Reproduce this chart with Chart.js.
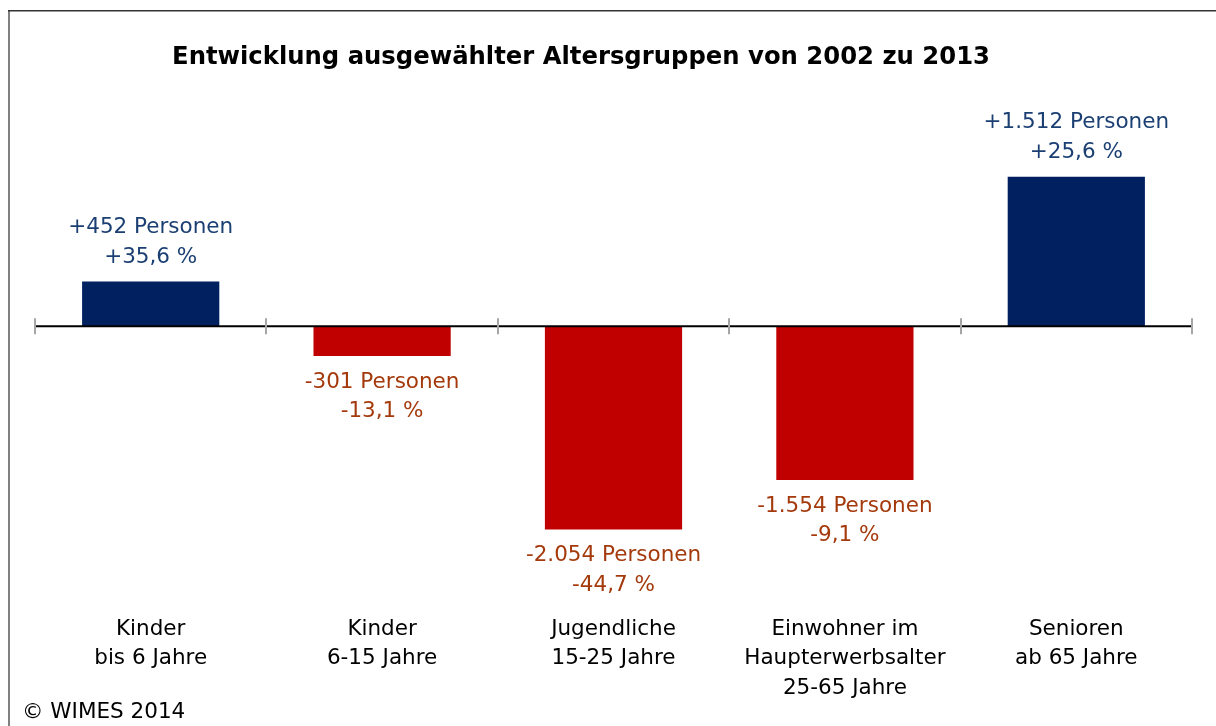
<!DOCTYPE html>
<html>
<head>
<meta charset="utf-8">
<script src="https://cdn.jsdelivr.net/npm/chart.js@4"></script>
<style>
  html, body { margin: 0; padding: 0; background: #fff; }
  #wrap { width: 1216px; height: 726px; }
</style>
</head>
<body>
<div id="wrap"><canvas id="myChart" width="1216" height="726"></canvas></div>
<script>
var kategorien = [
    ['Kinder', 'bis 6 Jahre'],
    ['Kinder', '6-15 Jahre'],
    ['Jugendliche', '15-25 Jahre'],
    ['Einwohner im', 'Haupterwerbsalter', '25-65 Jahre'],
    ['Senioren', 'ab 65 Jahre']
];
var personen = [452, -301, -2054, -1554, 1512];
var prozent = [35.6, -13.1, -44.7, -9.1, 25.6];
var titel = 'Entwicklung ausgewählter Altersgruppen von 2002 zu 2013';
var quelle = '\u00A9 WIMES 2014';

var schrift = '"DejaVu Sans", Verdana, sans-serif';
var blau = '#002060', rot = '#C00000';
var textBlau = '#1B3F73', textRot = '#A43A0C';

function zahl(v) {
    var s = Math.abs(v).toString().replace(/\B(?=(\d{3})+(?!\d))/g, '.');
    return (v < 0 ? '-' : '+') + s;
}
function pct(v) {
    return (v < 0 ? '-' : '+') + Math.abs(v).toFixed(1).replace('.', ',') + ' %';
}

// Rahmen, Titel, Quelle, Nulllinie mit Teilstrichen, Beschriftungen
var extras = {
    id: 'extras',
    beforeDraw: function(chart) {
        var c = chart.ctx;
        c.save();
        c.fillStyle = '#fff';
        c.fillRect(0, 0, chart.width, chart.height);
        c.fillStyle = '#808080';
        c.fillRect(8, 10, 2, chart.height - 10);
        c.fillStyle = '#333';
        c.fillRect(8, 10, chart.width - 8, 1.5);
        c.restore();
    },
    afterDatasetsDraw: function(chart) {
        var c = chart.ctx;
        var x = chart.scales.x, y = chart.scales.y;
        var y0 = y.getPixelForValue(0);
        c.save();
        // Nulllinie
        c.strokeStyle = '#000';
        c.lineWidth = 2;
        c.beginPath();
        c.moveTo(chart.chartArea.left, y0);
        c.lineTo(chart.chartArea.right, y0);
        c.stroke();
        // Teilstriche zwischen den Kategorien
        var schritt = x.getPixelForValue(1) - x.getPixelForValue(0);
        c.strokeStyle = '#a6a6a6';
        c.lineWidth = 2;
        for (var i = 0; i <= personen.length; i++) {
            var tx = Math.round(x.getPixelForValue(i) - schritt / 2);
            c.beginPath();
            c.moveTo(tx, y0 - 8);
            c.lineTo(tx, y0 + 8);
            c.stroke();
        }
        // Datenbeschriftungen
        c.font = '21.5px ' + schrift;
        c.textAlign = 'center';
        c.textBaseline = 'middle';
        var meta = chart.getDatasetMeta(0);
        meta.data.forEach(function(bar, i) {
            var v = personen[i];
            var z1 = zahl(v) + ' Personen', z2 = pct(prozent[i]);
            if (v >= 0) {
                c.fillStyle = textBlau;
                c.fillText(z1, bar.x, bar.y - 54);
                c.fillText(z2, bar.x, bar.y - 24.5);
            } else {
                c.fillStyle = textRot;
                c.fillText(z1, bar.x, bar.y + 26);
                c.fillText(z2, bar.x, bar.y + 55.5);
            }
        });
        // Titel
        c.fillStyle = '#000';
        c.font = 'bold 24.3px ' + schrift;
        c.fillText(titel, 581, 58);
        // Quelle
        c.textAlign = 'left';
        c.font = '21.5px ' + schrift;
        c.fillText(quelle, 22, 712);
        c.restore();
    }
};

var ctx = document.getElementById('myChart');
var myChart = new Chart(ctx, {
    type: 'bar',
    data: {
        labels: kategorien,
        datasets: [{
            data: personen,
            backgroundColor: personen.map(function(v) { return v < 0 ? rot : blau; }),
            borderWidth: 0,
            categoryPercentage: 1,
            barPercentage: 0.593
        }]
    },
    options: {
        responsive: false,
        animation: false,
        layout: { padding: { left: 35, right: 24, top: 128, bottom: 13 } },
        plugins: {
            legend: { display: false },
            tooltip: { enabled: false },
            title: { display: false }
        },
        scales: {
            x: {
                grid: { display: false },
                border: { display: false },
                ticks: {
                    color: '#000',
                    padding: 10,
                    maxRotation: 0,
                    autoSkip: false,
                    font: { family: schrift, size: 21.5, lineHeight: 1.37 }
                }
            },
            y: {
                display: false,
                min: -2733,
                max: 2004
            }
        }
    },
    plugins: [extras]
});
</script>
</body>
</html>
